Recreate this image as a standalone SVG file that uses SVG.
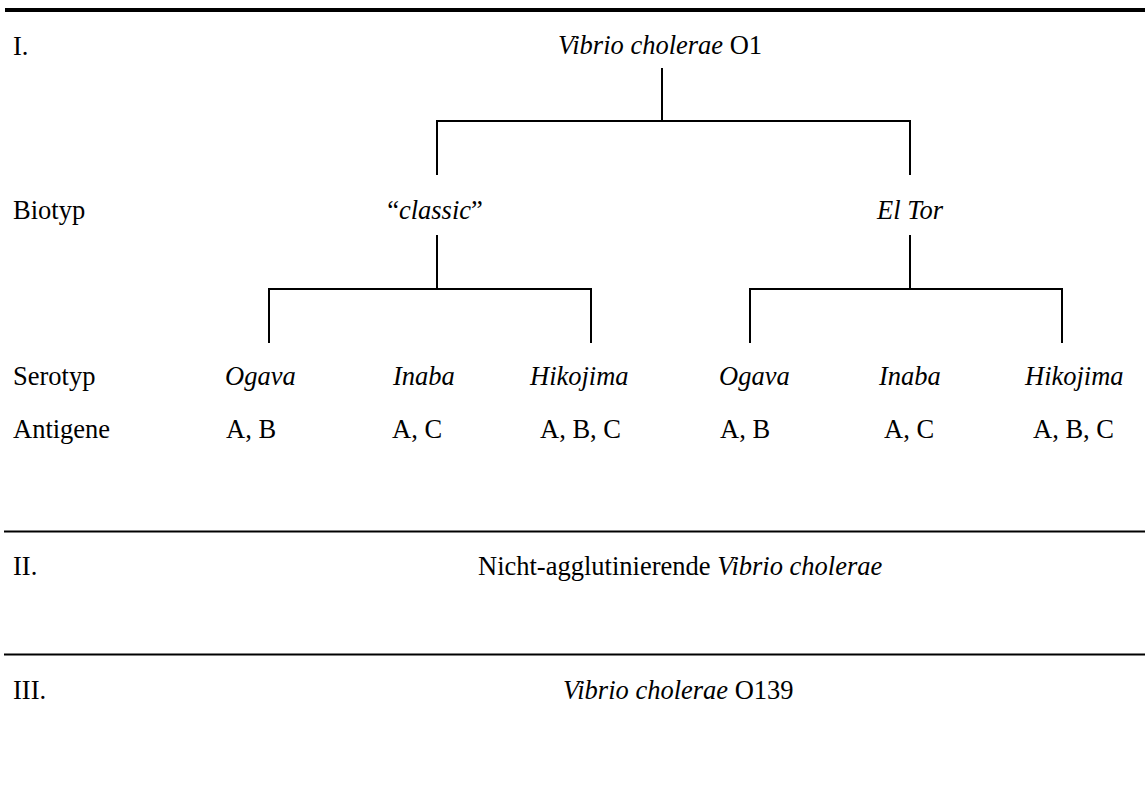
<svg xmlns="http://www.w3.org/2000/svg" width="1145" height="789" viewBox="0 0 1145 789">
<style>
text{font-family:"Liberation Serif","Times New Roman",serif;font-size:26.5px;fill:#000}
.i{font-style:italic}
.rule{stroke:#000;stroke-width:2;fill:none}
.tree{stroke:#000;stroke-width:2;fill:none}
</style>
<rect x="0" y="0" width="1145" height="789" fill="#fff"/>
<g id="rules">
<line x1="5" y1="10" x2="1145" y2="10" stroke="#000" stroke-width="4"/>
<line class="rule" x1="4" y1="531.5" x2="1145" y2="531.5"/>
<line class="rule" x1="4" y1="654.5" x2="1145" y2="654.5"/>
</g>
<g id="row-labels">
<text x="13" y="55">I.</text>
<text x="13" y="219">Biotyp</text>
<text x="13" y="385">Serotyp</text>
<text x="13" y="438">Antigene</text>
<text x="13" y="575">II.</text>
<text x="13" y="699">III.</text>
</g>
<g id="connectors">
<path class="tree" d="M662 68V121M437 175V121H910V175"/>
<path class="tree" d="M437 235V289M269 343V289H591V343"/>
<path class="tree" d="M910 235V289M750 343V289H1062V343"/>
</g>
<g id="node-root"><text x="558" y="54"><tspan class="i">Vibrio cholerae</tspan> O1</text></g>
<g id="node-classic"><text x="435" y="219" text-anchor="middle">“<tspan class="i">classic</tspan>”</text></g>
<g id="node-eltor"><text x="910" y="219" text-anchor="middle" class="i">El Tor</text></g>
<g id="node-c-ogava"><text x="225" y="385" class="i">Ogava</text><text x="226" y="438">A, B</text></g>
<g id="node-c-inaba"><text x="393" y="385" class="i">Inaba</text><text x="392" y="438">A, C</text></g>
<g id="node-c-hikojima"><text x="530" y="385" class="i">Hikojima</text><text x="540" y="438">A, B, C</text></g>
<g id="node-e-ogava"><text x="719" y="385" class="i">Ogava</text><text x="720" y="438">A, B</text></g>
<g id="node-e-inaba"><text x="879" y="385" class="i">Inaba</text><text x="884" y="438">A, C</text></g>
<g id="node-e-hikojima"><text x="1025" y="385" class="i">Hikojima</text><text x="1033" y="438">A, B, C</text></g>
<g id="node-nonagg"><text x="478" y="575">Nicht-agglutinierende <tspan class="i">Vibrio cholerae</tspan></text></g>
<g id="node-o139"><text x="563" y="699"><tspan class="i">Vibrio cholerae</tspan> O139</text></g>
</svg>
